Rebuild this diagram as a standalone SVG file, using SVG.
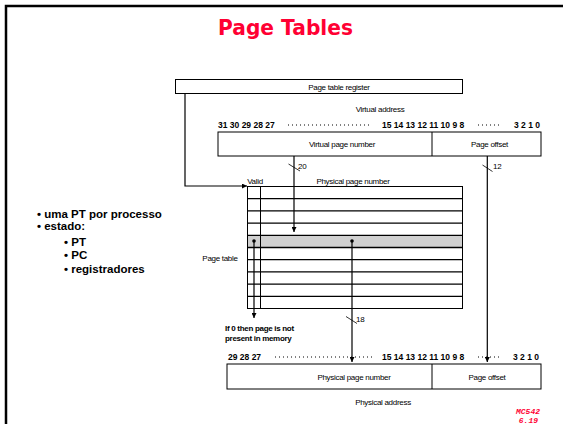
<svg xmlns="http://www.w3.org/2000/svg" width="563" height="424" viewBox="0 0 563 424">
<style>
.t{font-family:"Liberation Sans",Arial,sans-serif;font-size:8px;letter-spacing:-0.3px;fill:#000}
.b{font-family:"Liberation Sans",Arial,sans-serif;font-size:8.5px;font-weight:bold;fill:#000}
.bl{font-family:"Liberation Sans",Arial,sans-serif;font-size:11.5px;font-weight:bold;fill:#000}
.box{fill:#fff;stroke:#000;stroke-width:1}
.ln{stroke:#000;stroke-width:1.2;fill:none}
.dot{stroke:#000;stroke-width:1;stroke-dasharray:1 3;fill:none}
</style>
<defs>
<marker id="ah" viewBox="0 0 6 6" refX="6" refY="3" markerWidth="5" markerHeight="5" orient="auto" markerUnits="userSpaceOnUse">
<path d="M0,0 L6,3 L0,6 z" fill="#000"/>
</marker>
</defs>
<rect width="563" height="424" fill="#fff"/>
<path d="M6,424 V6 H563" fill="none" stroke="#000" stroke-width="2.5"/>
<text x="285.5" y="35" text-anchor="middle" font-family="'DejaVu Sans',sans-serif" font-size="21" font-weight="bold" fill="#ff0033" textLength="135" lengthAdjust="spacingAndGlyphs">Page Tables</text>

<g id="bullets">
<text class="bl" x="37" y="218">• uma PT por processo</text>
<text class="bl" x="37" y="229.5">• estado:</text>
<text class="bl" x="64" y="245.5">• PT</text>
<text class="bl" x="64" y="259">• PC</text>
<text class="bl" x="64" y="273">• registradores</text>
</g>

<g id="ptr">
<rect class="box" x="175.5" y="79.5" width="287" height="14"/>
<text class="t" x="339" y="90" text-anchor="middle">Page table register</text>
</g>

<g id="vaddr">
<text class="t" x="380" y="112" text-anchor="middle">Virtual address</text>
<text class="b" x="218" y="128">31 30 29 28 27</text>
<line class="dot" x1="288" y1="125" x2="372" y2="125"/>
<text class="b" x="382" y="128">15 14 13 12 11 10 9 8</text>
<line class="dot" x1="478" y1="125" x2="500" y2="125"/>
<text class="b" x="540" y="128" text-anchor="end">3 2 1 0</text>
<rect class="box" x="218" y="132" width="323" height="24"/>
<line x1="432" y1="132" x2="432" y2="156" stroke="#000"/>
<text class="t" x="342" y="147" text-anchor="middle">Virtual page number</text>
<text class="t" x="489.5" y="147" text-anchor="middle">Page offset</text>
</g>

<g id="pagetable">
<text class="t" x="255" y="184" text-anchor="middle">Valid</text>
<text class="t" x="353" y="184" text-anchor="middle">Physical page number</text>
<text class="t" x="220" y="261" text-anchor="middle">Page table</text>
<rect x="247.5" y="235.3" width="215" height="12.2" fill="#d0d0d0"/>
<rect x="247.5" y="186.5" width="215" height="122" fill="none" stroke="#000" stroke-width="1"/>
<g stroke="#000" stroke-width="1.3">
<line x1="247.5" y1="198.7" x2="462.5" y2="198.7"/>
<line x1="247.5" y1="210.9" x2="462.5" y2="210.9"/>
<line x1="247.5" y1="223.1" x2="462.5" y2="223.1"/>
<line x1="247.5" y1="235.3" x2="462.5" y2="235.3"/>
<line x1="247.5" y1="247.5" x2="462.5" y2="247.5"/>
<line x1="247.5" y1="259.7" x2="462.5" y2="259.7"/>
<line x1="247.5" y1="271.9" x2="462.5" y2="271.9"/>
<line x1="247.5" y1="284.1" x2="462.5" y2="284.1"/>
<line x1="247.5" y1="296.3" x2="462.5" y2="296.3"/>
</g>
<line x1="260.5" y1="186.5" x2="260.5" y2="308.5" stroke="#000" stroke-width="1"/>
</g>

<g id="note">
<text class="t" x="225" y="331" font-weight="bold" letter-spacing="-0.4">If 0 then page is not</text>
<text class="t" x="225" y="341" font-weight="bold" letter-spacing="-0.4">present in memory</text>
</g>

<g id="paddr">
<text class="b" x="228" y="360">29 28 27</text>
<line class="dot" x1="275" y1="357" x2="372" y2="357"/>
<text class="b" x="382" y="360">15 14 13 12 11 10 9 8</text>
<line class="dot" x1="478" y1="357" x2="500" y2="357"/>
<text class="b" x="539" y="360" text-anchor="end">3 2 1 0</text>
<rect class="box" x="227" y="364" width="314" height="25"/>
<line x1="432" y1="364" x2="432" y2="389" stroke="#000"/>
<text class="t" x="354" y="380" text-anchor="middle">Physical page number</text>
<text class="t" x="487" y="380" text-anchor="middle">Page offset</text>
<text class="t" x="383" y="405" text-anchor="middle">Physical address</text>
</g>

<g id="connectors">
<path class="ln" d="M185,93.5 V186 H247" marker-end="url(#ah)"/>
<line class="ln" x1="294" y1="156" x2="294" y2="232" marker-end="url(#ah)"/>
<line x1="288.5" y1="164" x2="300" y2="171" stroke="#000" stroke-width="0.8"/>
<text class="t" x="298" y="168.5">20</text>
<line class="ln" x1="487.3" y1="156" x2="487.3" y2="362" marker-end="url(#ah)"/>
<line x1="482.5" y1="165" x2="492.5" y2="171.5" stroke="#000" stroke-width="0.8"/>
<text class="t" x="493" y="168.5">12</text>
<circle cx="254" cy="241" r="1.8" fill="#000"/>
<line class="ln" x1="254" y1="241" x2="254" y2="318" marker-end="url(#ah)"/>
<circle cx="352" cy="241" r="1.8" fill="#000"/>
<line class="ln" x1="352" y1="241" x2="352" y2="362" marker-end="url(#ah)"/>
<line x1="346" y1="316.5" x2="357" y2="323.5" stroke="#000" stroke-width="0.8"/>
<text class="t" x="356" y="321.5">18</text>
</g>

<g id="footer">
<text x="540" y="414" text-anchor="end" font-family="'Liberation Mono',monospace" font-size="8" font-weight="bold" font-style="italic" fill="#ff0033">MC542</text>
<text x="538" y="423" text-anchor="end" font-family="'Liberation Mono',monospace" font-size="8" font-weight="bold" font-style="italic" fill="#ff0033">6.19</text>
</g>
</svg>
